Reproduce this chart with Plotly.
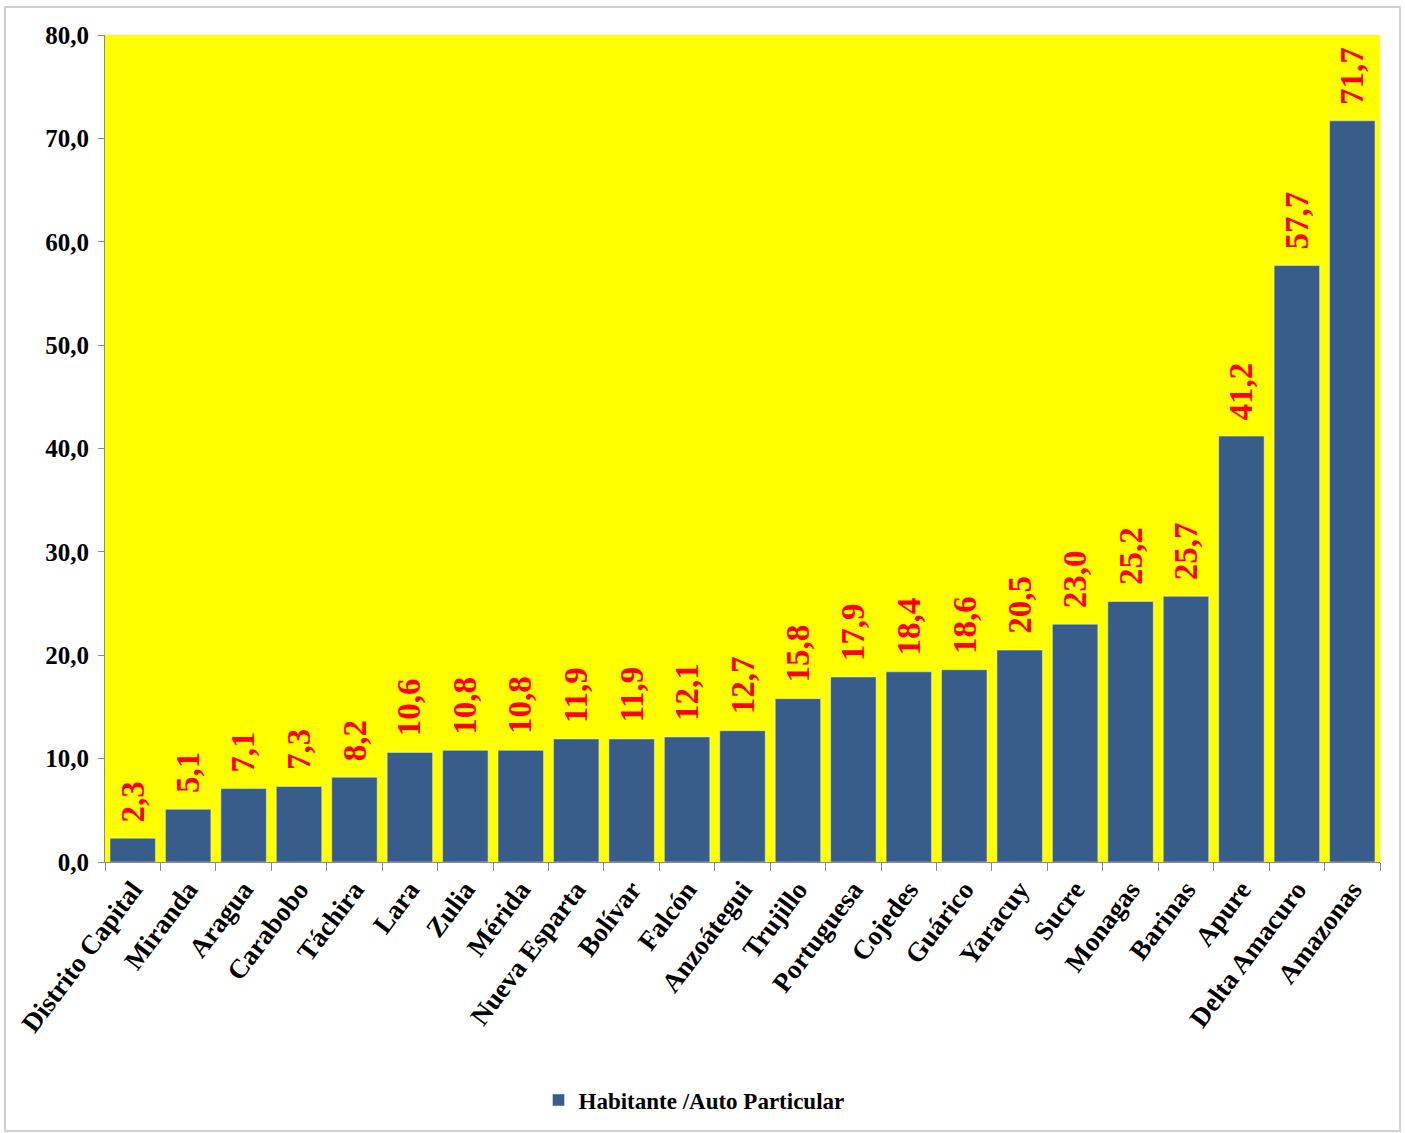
import plotly.graph_objects as go

estados = ["Distrito Capital", "Miranda", "Aragua", "Carabobo", "Táchira", "Lara", "Zulia",
           "Mérida", "Nueva Esparta", "Bolívar", "Falcón", "Anzoátegui", "Trujillo",
           "Portuguesa", "Cojedes", "Guárico", "Yaracuy", "Sucre", "Monagas", "Barinas",
           "Apure", "Delta Amacuro", "Amazonas"]
valores = [2.3, 5.1, 7.1, 7.3, 8.2, 10.6, 10.8, 10.8, 11.9, 11.9, 12.1, 12.7, 15.8,
           17.9, 18.4, 18.6, 20.5, 23.0, 25.2, 25.7, 41.2, 57.7, 71.7]
serie = "Habitante /Auto Particular"

etiquetas = [f"{v:.1f}".replace(".", ",") for v in valores]
FONT = "Liberation Serif"

W, H = 1405, 1133
L, R, T, B = 105, 25, 35, 271
pw, ph = W - L - R, H - T - B

fig = go.Figure(go.Bar(
    x=estados, y=valores, name=serie,
    marker=dict(color="#385D8A"),
    cliponaxis=False,
))

anotaciones = [dict(x=e, y=v, xref="x", yref="y", text=t, textangle=-90, showarrow=False,
                    xanchor="center", yanchor="bottom", yshift=14,
                    font=dict(family=FONT, size=33, color="#FF0000", weight="bold"))
               for e, v, t in zip(estados, valores, etiquetas)]

fig.update_layout(
    width=W, height=H,
    margin=dict(l=L, r=R, t=T, b=B),
    paper_bgcolor="white", plot_bgcolor="#FFFF00",
    separators=",.",
    bargap=0.18,
    showlegend=True,
    annotations=anotaciones,
    legend=dict(orientation="h", x=(694 - L) / pw, xanchor="center", y=-(1100 - 862) / ph,
                yanchor="middle",
                font=dict(family=FONT, size=23, color="black", weight="bold"), itemwidth=30),
    font=dict(family=FONT),
    xaxis=dict(tickangle=-53, tickfont=dict(family=FONT, size=27, color="black", weight="bold"),
               showline=True, linecolor="#888888", ticks="outside", tickson="boundaries",
               ticklen=8, tickcolor="#888888", showgrid=False),
    yaxis=dict(range=[0, 80], dtick=10, tickformat=".1f",
               tickfont=dict(family=FONT, size=25, color="black", weight="bold"),
               showline=True, linecolor="#888888", ticks="outside", ticklen=6,
               tickcolor="#888888", showgrid=False, zeroline=False, ticklabelstandoff=4),
    shapes=[dict(type="rect", xref="paper", yref="paper",
                 x0=(5 - L) / pw, x1=(1400 - L) / pw,
                 y0=(T + ph - 1131) / ph, y1=(T + ph - 7) / ph,
                 line=dict(color="#D0D0D0", width=2), layer="below")],
)

fig.write_html("out.html")
